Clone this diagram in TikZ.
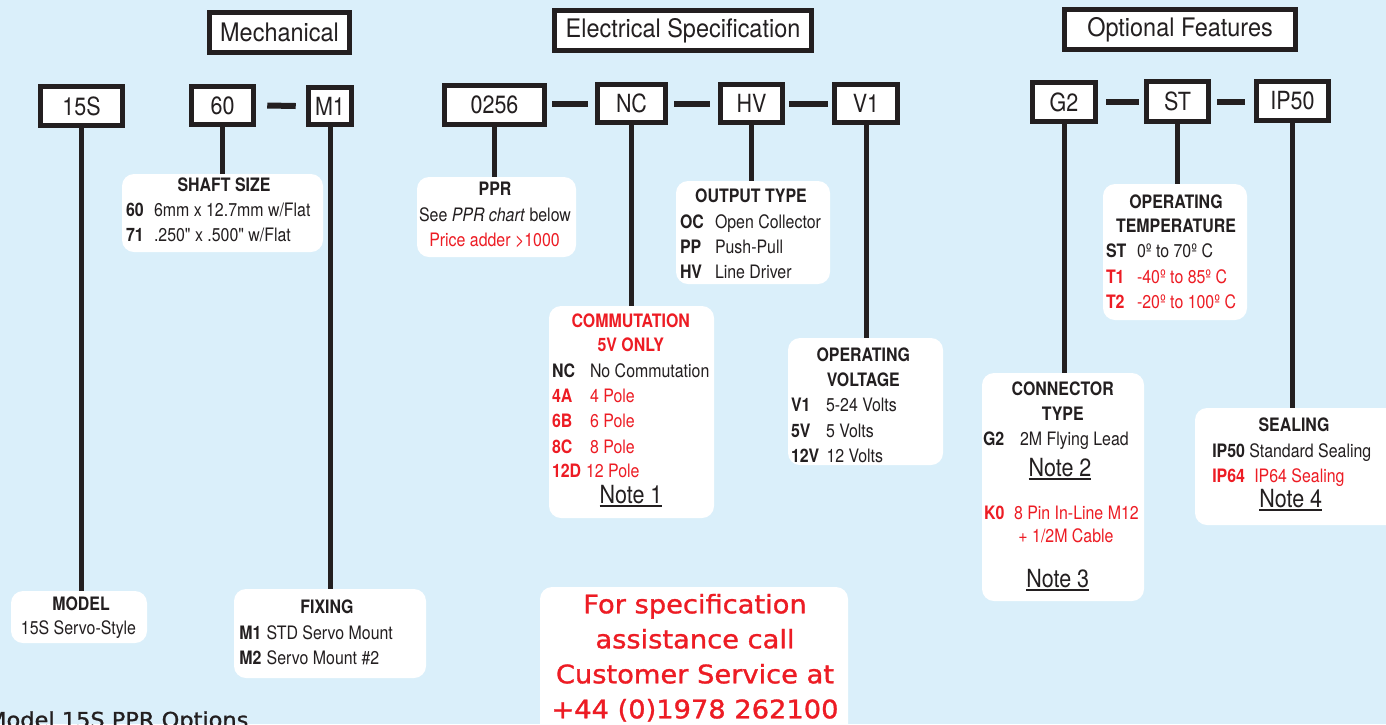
\documentclass[tikz,border=0pt]{standalone}
\usepackage{fontspec}
\setmainfont{TeX Gyre Heros}[FakeStretch=0.86, Ligatures=TeXOff]
\newfontfamily\hdfont{TeX Gyre Heros}[FakeStretch=0.92]
\newfontfamily\vfont{DejaVu Sans}[FakeStretch=1.07, FakeBold=1.2]
\usetikzlibrary{calc}
\definecolor{ink}{RGB}{35,31,32}
\definecolor{spec}{RGB}{237,28,36}
\definecolor{bg}{RGB}{218,239,250}
\tikzset{
  hdr/.style={draw=ink, line width=5.5, fill=white, inner sep=0, outer sep=0,
    text=ink, font=\hdfont\fontsize{25.5}{30}\selectfont},
  code/.style={draw=ink, line width=5.5, fill=white, inner sep=0, outer sep=0,
    text=ink, font=\fontsize{25}{30}\selectfont},
  joiner/.style={draw=ink, line width=6},
  stem/.style={draw=ink, line width=5},
  desc/.style={fill=white, rounded corners=12, inner sep=0, outer sep=0},
  tx/.style={inner sep=0, outer sep=0, text=ink, font=\fontsize{18.5}{22}\selectfont},
  txb/.style={inner sep=0, outer sep=0, text=ink, font=\bfseries\fontsize{18.5}{22}\selectfont},
  txr/.style={tx, text=spec},
  txbr/.style={txb, text=spec},
  notef/.style={inner sep=0, outer sep=0, text=ink, font=\fontsize{25}{30}\selectfont},
  redtx/.style={inner sep=0, outer sep=0, text=spec, font=\vfont\fontsize{25.5}{30}\selectfont},
}
\newcommand\notelabel[4]{%
  \node[notef, anchor=base] (#1) at (#2,#3) {#4};
  \draw[ink, line width=1.8] ([yshift=-2.6]#1.base west) -- ([yshift=-2.6]#1.base east);}
\begin{document}
\begin{tikzpicture}[x=1pt,y=-1pt]
\useasboundingbox (0,0) rectangle (1386,724);
\clip (0,0) rectangle (1386,724);
\fill[bg] (0,0) rectangle (1386,724);

% ---- section headers
\node[hdr, minimum width=140, minimum height=40] (hmech) at (279.5,32.5) {Mechanical};
\node[hdr, minimum width=257, minimum height=40] (helec) at (683,30.5) {Electrical Specification};
\node[hdr, minimum width=231, minimum height=40] (hopt) at (1180,29.5) {Optional Features};

% ---- description boxes
\node[desc, minimum width=136, minimum height=52] (dmodel) at (79,617) {};
\node[desc, minimum width=201, minimum height=78] (dshaft) at (222.5,213) {};
\node[desc, minimum width=192, minimum height=89] (dfix) at (330,633.5) {};
\node[desc, minimum width=159, minimum height=80] (dppr) at (496.5,217) {};
\node[desc, minimum width=165, minimum height=212] (dcomm) at (631.5,412) {};
\node[desc, minimum width=154, minimum height=103] (dout) at (753,232.5) {};
\node[desc, minimum width=155, minimum height=127] (dvolt) at (865.5,401.5) {};
\node[desc, minimum width=162, minimum height=228] (dconn) at (1063,487) {};
\node[desc, minimum width=144, minimum height=136] (dtemp) at (1175,252) {};
\node[desc, minimum width=215, minimum height=117] (dseal) at (1302.5,466.5) {};
\node[desc, minimum width=308, minimum height=150] (dcall) at (694,662) {};

% ---- code boxes
\node[code, minimum width=82, minimum height=39] (c15S) at (81.5,106) {15S};
\node[code, minimum width=62, minimum height=38] (c60) at (222.5,105.5) {60};
\node[code, minimum width=43, minimum height=37] (cM1) at (330,106) {M1};
\node[code, minimum width=100, minimum height=39] (c0256) at (494.5,105) {0256};
\node[code, minimum width=68, minimum height=38] (cNC) at (631.5,103.5) {NC};
\node[code, minimum width=62, minimum height=38] (cHV) at (751.5,103.5) {HV};
\node[code, minimum width=63, minimum height=38] (cV1) at (866,103.5) {V1};
\node[code, minimum width=63, minimum height=39] (cG2) at (1064,102) {G2};
\node[code, minimum width=62, minimum height=40] (cST) at (1177.5,101.5) {ST};
\node[code, minimum width=72, minimum height=39] (cIP) at (1292.5,101) {IP50};

% ---- joiners
\draw[joiner] ($(c60.east)+(13.75,0)$) -- ($(cM1.west)+(-12.75,0)$);
\draw[joiner] ($(c0256.east |- cNC.west)+(7.75,0)$) -- ($(cNC.west)+(-9.75,0)$);
\draw[joiner] ($(cNC.east)+(8.75,0)$) -- ($(cHV.west)+(-10.75,0)$);
\draw[joiner] ($(cHV.east)+(6.75,0)$) -- ($(cV1.west)+(-6.75,0)$);
\draw[joiner] ($(cG2.east |- cST.west)+(10.75,0)$) -- ($(cST.west)+(-7.75,0)$);
\draw[joiner] ($(cST.east)+(8.75,0)$) -- ($(cIP.west |- cST.east)+(-11.75,0)$);

% ---- stems
\draw[stem] (c15S.south) -- (c15S.south |- dmodel.north);
\draw[stem] (c60.south) -- (c60.south |- dshaft.north);
\draw[stem] (cM1.south) -- (cM1.south |- dfix.north);
\draw[stem] (c0256.south) -- (c0256.south |- dppr.north);
\draw[stem] (cNC.south) -- (cNC.south |- dcomm.north);
\draw[stem] (cHV.south) -- (cHV.south |- dout.north);
\draw[stem] (cV1.south) -- (cV1.south |- dvolt.north);
\draw[stem] (cG2.south) -- (cG2.south |- dconn.north);
\draw[stem] (cST.south) -- (cST.south |- dtemp.north);
\draw[stem] (cIP.south) -- (cIP.south |- dseal.north);

% ---- MODEL
\node[txb, anchor=base] (tmodel) at (81,610) {MODEL};
\node[tx, anchor=base] (vmodel) at (78.5,634.3) {15S Servo-Style};

% ---- SHAFT SIZE
\node[txb, anchor=base] (tshaft) at (224,191) {SHAFT SIZE};
\node[txb, anchor=base west] (k60) at (126,216) {60};
\node[tx, anchor=base west] (v60) at (154,216) {6mm x 12.7mm w/Flat};
\node[txb, anchor=base west] (k71) at (126,241.7) {71};
\node[tx, anchor=base west] (v71) at (154,241.7) {.250" x .500" w/Flat};

% ---- FIXING
\node[txb, anchor=base] (tfix) at (327,613.3) {FIXING};
\node[txb, anchor=base west] (kM1) at (239.3,639.3) {M1};
\node[tx, anchor=base west] (vM1) at (266.7,639.3) {STD Servo Mount};
\node[txb, anchor=base west] (kM2) at (239.3,664.3) {M2};
\node[tx, anchor=base west] (vM2) at (266.7,664.3) {Servo Mount \#2};

% ---- PPR
\node[txb, anchor=base] (tppr) at (495,195.7) {PPR};
\node[tx, anchor=base] (vppr1) at (495,221.7) {See \textit{PPR chart} below};
\node[txr, anchor=base] (vppr2) at (494.5,246.7) {Price adder >1000};

% ---- OUTPUT TYPE
\node[txb, anchor=base] (tout) at (751,202.3) {OUTPUT TYPE};
\node[txb, anchor=base west] (kOC) at (680,228.7) {OC};
\node[tx, anchor=base west] (vOC) at (715,228.7) {Open Collector};
\node[txb, anchor=base west] (kPP) at (680,253.3) {PP};
\node[tx, anchor=base west] (vPP) at (715,253.3) {Push-Pull};
\node[txb, anchor=base west] (kHV) at (680,278.3) {HV};
\node[tx, anchor=base west] (vHV) at (715,278.3) {Line Driver};

% ---- COMMUTATION
\node[txbr, anchor=base] (tcomm1) at (630.7,327.3) {COMMUTATION};
\node[txbr, anchor=base] (tcomm2) at (630.7,351) {5V ONLY};
\node[txb, anchor=base west] (kNC) at (552,377.7) {NC};
\node[tx, anchor=base west] (vNC) at (590,377.7) {No Commutation};
\node[txbr, anchor=base west] (k4A) at (552,402.7) {4A};
\node[txr, anchor=base west] (v4A) at (590,402.7) {4 Pole};
\node[txbr, anchor=base west] (k6B) at (552,427.7) {6B};
\node[txr, anchor=base west] (v6B) at (590,427.7) {6 Pole};
\node[txbr, anchor=base west] (k8C) at (552,453.3) {8C};
\node[txr, anchor=base west] (v8C) at (590,453.3) {8 Pole};
\node[txbr, anchor=base west] (k12D) at (552,477.7) {12D};
\node[txr, anchor=base west] (v12D) at (586,477.7) {12 Pole};
\notelabel{note1}{631}{503.3}{Note 1}

% ---- OPERATING VOLTAGE
\node[txb, anchor=base] (tvolt1) at (863.3,361) {OPERATING};
\node[txb, anchor=base] (tvolt2) at (863.3,386.7) {VOLTAGE};
\node[txb, anchor=base west] (kV1) at (791,411) {V1};
\node[tx, anchor=base west] (vV1) at (826,411) {5-24 Volts};
\node[txb, anchor=base west] (k5V) at (791,437.3) {5V};
\node[tx, anchor=base west] (v5V) at (826,437.3) {5 Volts};
\node[txb, anchor=base west] (k12V) at (791,462.3) {12V};
\node[tx, anchor=base west] (v12V) at (826.5,462.3) {12 Volts};

% ---- CONNECTOR TYPE
\node[txb, anchor=base] (tconn1) at (1062.7,395.7) {CONNECTOR};
\node[txb, anchor=base] (tconn2) at (1062.7,420) {TYPE};
\node[txb, anchor=base west] (kG2) at (983,445) {G2};
\node[tx, anchor=base west] (vG2) at (1020,445) {2M Flying Lead};
\notelabel{note2}{1060}{476.7}{Note 2}
\node[txbr, anchor=base west] (kK0) at (984,519.3) {K0};
\node[txr, anchor=base west] (vK0) at (1014,519.3) {8 Pin In-Line M12};
\node[txr, anchor=base] (vK0b) at (1066,542.7) {+ 1/2M Cable};
\notelabel{note3}{1057.7}{587.7}{Note 3}

% ---- OPERATING TEMPERATURE
\node[txb, anchor=base] (ttemp1) at (1176,208.3) {OPERATING};
\node[txb, anchor=base] (ttemp2) at (1176,232.3) {TEMPERATURE};
\node[txb, anchor=base west] (kST) at (1106,257.7) {ST};
\node[tx, anchor=base west] (vST) at (1137,257.7) {0º to 70º C};
\node[txbr, anchor=base west] (kT1) at (1106,283.3) {T1};
\node[txr, anchor=base west] (vT1) at (1137,283.3) {-40º to 85º C};
\node[txbr, anchor=base west] (kT2) at (1106,308.3) {T2};
\node[txr, anchor=base west] (vT2) at (1137,308.3) {-20º to 100º C};

% ---- SEALING
\node[txb, anchor=base] (tseal) at (1294,431) {SEALING};
\node[txb, anchor=base west] (kIP50) at (1212.3,457.7) {IP50};
\node[tx, anchor=base west] (vIP50) at (1249.3,457.7) {Standard Sealing};
\node[txbr, anchor=base west] (kIP64) at (1212.3,482.7) {IP64};
\node[txr, anchor=base west] (vIP64) at (1254.3,482.7) {IP64 Sealing};
\notelabel{note4}{1290.7}{507.7}{Note 4}

% ---- call box
\node[redtx, anchor=base] (call1) at (695,613.3) {For specification};
\node[redtx, anchor=base] (call2) at (695,648.3) {assistance call};
\node[redtx, anchor=base] (call3) at (695,683.3) {Customer Service at};
\node[redtx, anchor=base] (call4) at (695,718.3) {+44 (0)1978 262100};

% ---- bottom caption (cut off)
\node[anchor=base west, inner sep=0, text=ink, font=\vfont\fontsize{21}{25}\selectfont] (pprcap) at (-13,727.3) {Model 15S PPR Options};
\end{tikzpicture}
\end{document}
